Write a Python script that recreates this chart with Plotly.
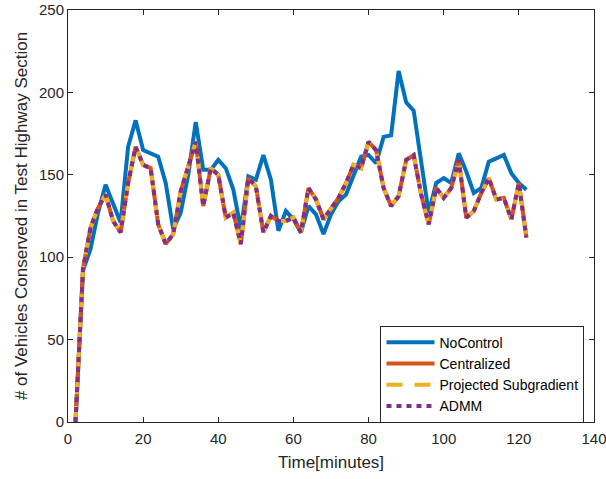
import plotly.graph_objects as go

time_min = [2, 4, 6, 8, 10, 12, 14, 16, 18, 20, 22, 24, 26, 28, 30, 32, 34, 36, 38, 40,
            42, 44, 46, 48, 50, 52, 54, 56, 58, 60, 62, 64, 66, 68, 70, 72, 74, 76, 78, 80,
            82, 84, 86, 88, 90, 92, 94, 96, 98, 100, 102, 104, 106, 108, 110, 112, 114, 116, 118, 120,
            122]

no_control = [0, 92, 105, 127, 144, 132, 121, 167, 183, 165, 163, 161, 145, 117, 127, 150, 182, 153, 153, 159,
              154, 141, 117, 149, 147, 162, 147, 116, 128, 123, 115, 131, 126, 114, 126, 134, 138, 150, 161, 162,
              157, 173, 174, 213, 194, 189, 158, 127, 145, 148, 145, 163, 152, 139, 142, 158, 160, 162, 151, 145,
              141]

centralized = [0, 93, 118, 130, 138, 122, 115, 145, 167, 156, 154, 120, 108, 114, 140, 155, 170, 131, 154, 150,
               124, 127, 108, 148, 143, 115, 125, 122, 122, 124, 115, 142, 135, 123, 130, 136, 145, 156, 154, 170,
               165, 142, 131, 137, 159, 162, 138, 120, 142, 136, 142, 159, 124, 128, 139, 148, 135, 136, 123, 145,
               112]

projected_subgradient = [0, 93, 118, 130, 138, 122, 115, 145, 167, 156, 154, 120, 108, 114, 140, 155, 170, 131, 154, 150,
                         124, 127, 108, 148, 143, 115, 125, 122, 122, 124, 115, 142, 135, 123, 130, 136, 145, 156, 154, 170,
                         165, 142, 131, 137, 159, 162, 138, 120, 142, 136, 142, 159, 124, 128, 139, 148, 135, 136, 123, 145,
                         112]

admm = [0, 93, 118, 130, 138, 122, 115, 145, 167, 156, 154, 120, 108, 114, 140, 155, 170, 131, 154, 150,
        124, 127, 108, 148, 143, 115, 125, 122, 122, 124, 115, 142, 135, 123, 130, 136, 145, 156, 154, 170,
        165, 142, 131, 137, 159, 162, 138, 120, 142, 136, 142, 159, 124, 128, 139, 148, 135, 136, 123, 145,
        112]

x_ticks = [0, 20, 40, 60, 80, 100, 120, 140]
y_ticks = [0, 50, 100, 150, 200, 250]

FONT = "Liberation Sans, Arial, Helvetica, sans-serif"
AX = "#262626"

fig = go.Figure()
fig.add_trace(go.Scatter(x=time_min, y=no_control, mode="lines", name="NoControl",
                         line=dict(color="#0072BD", width=4)))
fig.add_trace(go.Scatter(x=time_min, y=centralized, mode="lines", name="Centralized",
                         line=dict(color="#D95319", width=4)))
fig.add_trace(go.Scatter(x=time_min, y=projected_subgradient, mode="lines", name="Projected Subgradient",
                         line=dict(color="#EDB120", width=4, dash="16px,12px")))
fig.add_trace(go.Scatter(x=time_min, y=admm, mode="lines", name="ADMM",
                         line=dict(color="#7E2F8E", width=4, dash="5px,5px")))

axis_common = dict(
    showline=True, linecolor=AX, linewidth=1, mirror="ticks",
    ticks="inside", ticklen=5, tickcolor=AX, tickwidth=1,
    showgrid=False, zeroline=False, automargin=False,
    ticklabeloverflow="allow",
    tickfont=dict(family=FONT, size=15, color=AX),
)

fig.update_layout(
    width=606, height=479,
    margin=dict(l=68, r=12, t=10, b=57),
    paper_bgcolor="white", plot_bgcolor="white",
    font=dict(family=FONT, color=AX),
    xaxis=dict(range=[0, 140], tickvals=x_ticks, ticklabelstandoff=3,
               title=dict(text="Time[minutes]", font=dict(family=FONT, size=17, color=AX), standoff=10),
               **axis_common),
    yaxis=dict(range=[0, 250], tickvals=y_ticks,
               title=dict(text="# of Vehicles Conserved in Test Highway Section",
                          font=dict(family=FONT, size=17, color=AX), standoff=7),
               **axis_common),
    legend=dict(x=0.788, xanchor="center", y=0.116, yanchor="middle",
                bgcolor="white", bordercolor=AX, borderwidth=1,
                font=dict(family=FONT, size=14, color="black"),
                itemwidth=48, tracegroupgap=0),
    showlegend=True,
)

# remove the browser's default 8px page margin so the figure fills the window exactly
fig.write_html("out.html", config={"displayModeBar": False},
               post_script="document.body.style.margin='0';")
